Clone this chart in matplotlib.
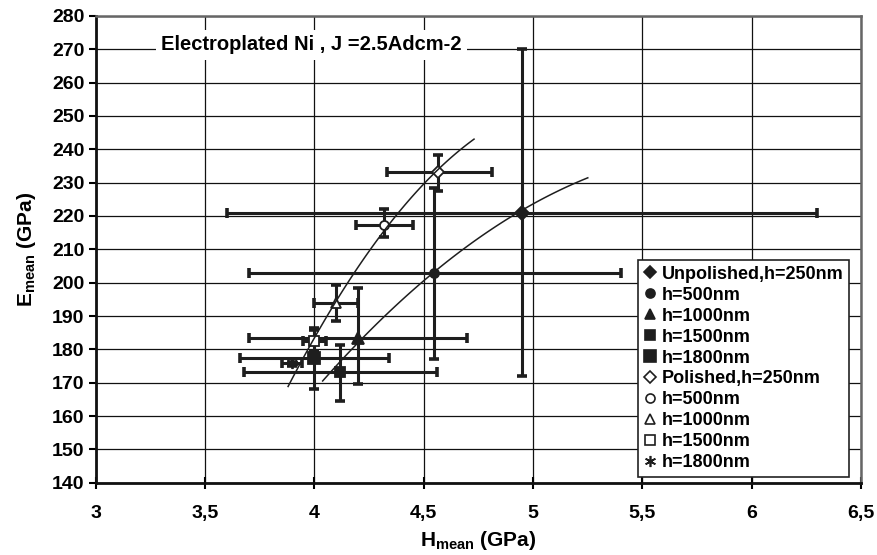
import matplotlib
matplotlib.use("Agg")
import matplotlib.pyplot as plt
import numpy as np
from matplotlib.lines import Line2D

plt.rcParams['font.family'] = ['Liberation Sans', 'DejaVu Sans']
plt.rcParams['font.weight'] = 'bold'
plt.rcParams['mathtext.fontset'] = 'custom'
plt.rcParams['mathtext.rm'] = 'Liberation Sans:bold'
plt.rcParams['mathtext.bf'] = 'Liberation Sans:bold'
plt.rcParams['mathtext.it'] = 'Liberation Sans:bold'

# ---- data ----
labels = ["Unpolished,h=250nm", "h=500nm", "h=1000nm", "h=1500nm", "h=1800nm",
          "Polished,h=250nm", "h=500nm", "h=1000nm", "h=1500nm", "h=1800nm"]
H_mean = [4.95, 4.545, 4.20, 4.117, 4.00,
          4.565, 4.32, 4.10, 4.00, 3.897]
E_mean = [220.8, 203.0, 183.5, 173.1, 177.3,
          233.1, 217.4, 193.8, 182.6, 176.0]
H_low = [3.60, 3.70, 3.70, 3.68, 3.66,
         4.33, 4.19, 4.00, 3.947, 3.851]
H_high = [6.30, 5.40, 4.70, 4.56, 4.34,
          4.81, 4.45, 4.20, 4.053, 3.942]
E_low = [172.0, 177.0, 169.6, 164.6, 168.1,
         227.5, 213.7, 188.6, 179.5, 175.0]
E_high = [270.0, 228.5, 198.5, 181.3, 186.3,
          238.4, 222.1, 199.4, 185.8, 177.0]

# trend curves
pol_curve_H = [3.88, 4.00, 4.10, 4.32, 4.565, 4.73]
pol_curve_E = [169.5, 182.6, 194.0, 217.0, 233.0, 243.3]
unp_curve_H = [4.038, 4.20, 4.545, 4.944, 5.118, 5.25]
unp_curve_E = [169.5, 183.5, 203.0, 220.8, 227.4, 232.0]

x_ticks = [3, 3.5, 4, 4.5, 5, 5.5, 6, 6.5]
x_ticklabels = ["3", "3,5", "4", "4,5", "5", "5,5", "6", "6,5"]
y_ticks = list(range(140, 281, 10))

title_text = "Electroplated Ni , J =2.5Adcm-2"

# ---- styles ----
markers = ['D', 'o', '^', 's', 's', 'D', 'o', '^', 's', (6, 2, 0)]
msizes = [7, 6.5, 8, 7, 8.5, 6, 6.5, 7.5, 7, 8]
filled = [True] * 5 + [False] * 5

fig = plt.figure(figsize=(8.77, 5.55), dpi=100)
ax = fig.add_axes([0.109, 0.130, 0.873, 0.8415])

dark = '#1e1e1e'
for i in range(len(H_mean)):
    ax.errorbar([H_mean[i]], [E_mean[i]],
                xerr=[[H_mean[i] - H_low[i]], [H_high[i] - H_mean[i]]],
                yerr=[[E_mean[i] - E_low[i]], [E_high[i] - E_mean[i]]],
                fmt='none', ecolor=dark, elinewidth=2.2, capsize=3.6,
                capthick=2.6, zorder=3)

handles = []
for i in range(len(H_mean)):
    fc = dark if filled[i] else 'white'
    ax.plot([H_mean[i]], [E_mean[i]], linestyle='none', marker=markers[i],
            markersize=msizes[i], markerfacecolor=fc, markeredgecolor=dark,
            markeredgewidth=1.3, zorder=4)
    handles.append(Line2D([], [], linestyle='none', marker=markers[i],
                          markersize=6.5 if i not in (4, 9) else 8,
                          markerfacecolor=fc, markeredgecolor=dark,
                          markeredgewidth=1.2))

# trend curves: quadratic fits of the read curve points
for ch, ce in ((pol_curve_H, pol_curve_E), (unp_curve_H, unp_curve_E)):
    c = np.polyfit(ch, ce, 2)
    xs = np.linspace(min(ch), max(ch), 100)
    ax.plot(xs, np.polyval(c, xs), color=dark, lw=1.1, zorder=5)

ax.set_xlim(3, 6.5)
ax.set_ylim(140, 280)
ax.set_xticks(x_ticks)
ax.set_xticklabels(x_ticklabels)
ax.set_yticks(y_ticks)
ax.grid(True, color='#111111', linewidth=0.9)
ax.set_axisbelow(True)

for s in ('left', 'bottom'):
    ax.spines[s].set_linewidth(2.0)
    ax.spines[s].set_color('#111111')
for s in ('top', 'right'):
    ax.spines[s].set_linewidth(1.8)
    ax.spines[s].set_color('#666666')

ax.tick_params(axis='y', direction='out', length=5, width=1.5, labelsize=14, pad=3)
ax.tick_params(axis='x', direction='inout', length=8, width=1.5, labelsize=14, pad=12)
for lab in ax.get_xticklabels() + ax.get_yticklabels():
    lab.set_fontweight('bold')

ax.set_xlabel(r'$\mathbf{H_{mean}}$ (GPa)', fontsize=15, fontweight='bold', labelpad=5)
ax.set_ylabel(r'$\mathbf{E_{mean}}$ (GPa)', fontsize=15, fontweight='bold', labelpad=10)

ax.text(3.30, 271.3, title_text, fontsize=14.5, fontweight='bold', va='center',
        ha='left', zorder=6,
        bbox=dict(facecolor='white', edgecolor='none', pad=4))

leg = ax.legend(handles, labels, loc='lower left', bbox_to_anchor=(0.709, 0.013),
                fontsize=13, frameon=True, fancybox=False, framealpha=1,
                edgecolor='#222222', handlelength=0.7, handletextpad=0.3,
                labelspacing=0.22, borderpad=0.3, borderaxespad=0)
leg.get_frame().set_linewidth(1.2)
leg.set_zorder(10)
for t in leg.get_texts():
    t.set_fontweight('bold')

fig.savefig('out.png', dpi=100)
